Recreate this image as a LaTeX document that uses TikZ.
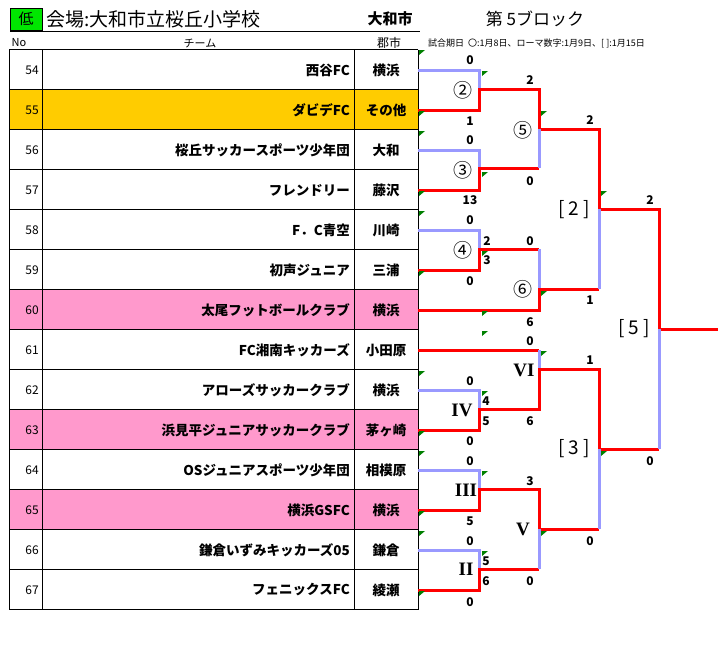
\documentclass[tikz,border=0pt]{standalone}
\usepackage{fontspec}
\setmainfont{Noto Sans CJK JP}
\newfontfamily\romfont{Liberation Serif}
\definecolor{lav}{RGB}{153,153,255}
\definecolor{gold}{RGB}{255,204,0}
\definecolor{pinkr}{RGB}{255,153,204}
\definecolor{lowg}{RGB}{0,230,0}
\definecolor{mkg}{RGB}{0,128,0}
\begin{document}
\begin{tikzpicture}[x=1pt,y=-1pt,
  win/.style={draw=red,line width=3pt,line join=miter},
  lose/.style={draw=lav,line width=3pt},
  sc/.style={font=\fontsize{12}{12}\selectfont\bfseries,inner sep=0pt},
  lab/.style={font=\fontsize{19}{19}\selectfont,inner sep=0pt},
  rom/.style={font=\fontsize{19}{19}\selectfont\romfont\bfseries,inner sep=0pt},
  team/.style={font=\fontsize{13.5}{14}\selectfont\bfseries,anchor=east,inner sep=0pt},
  city/.style={font=\fontsize{13.5}{14}\selectfont\bfseries,inner sep=0pt},
  num/.style={font=\fontsize{12}{12}\selectfont,anchor=east,inner sep=0pt},
  grid/.style={draw=black,line width=0.9pt},
  mk/.style={fill=mkg}]
\useasboundingbox (0,0) rectangle (728,646);
\fill[white] (0,0) rectangle (728,646);
% header
\node[draw=black,fill=lowg,minimum width=32pt,minimum height=22pt,inner sep=0pt,font=\fontsize{15}{15}\selectfont] (low) at (26,19) {低};
\node[anchor=west,inner sep=0pt,font=\fontsize{19}{19}\selectfont] (venue) at (46,19) {会場:大和市立桜丘小学校};
\node[inner sep=0pt,font=\fontsize{15}{15}\selectfont\bfseries] (vcity) at (390,19) {大和市};
\node[inner sep=0pt,font=\fontsize{17}{17}\selectfont] (block) at (535,19) {第 5ブロック};
\draw[black,line width=1pt] (10,31) -- (420,31);
\node[inner sep=0pt,font=\fontsize{11}{11}\selectfont] (hno) at (19,43) {No};
\node[inner sep=0pt,font=\fontsize{11}{11}\selectfont] (hteam) at (200,43) {チーム};
\node[inner sep=0pt,font=\fontsize{12}{12}\selectfont] (hcity) at (389,43) {郡市};
\node[anchor=west,inner sep=0pt,font=\fontsize{9}{9}\selectfont] (note) at (428,43) {試合期日\ \ 〇:1月8日、ローマ数字:1月9日、[ ]:1月15日};
% table
\fill[gold] (9,89.5) rectangle (418,129.5);
\foreach \r in {6,9,11}{\fill[pinkr] (9,49.5+40*\r) rectangle (418,89.5+40*\r);}
\foreach \r in {0,...,14}{\draw[grid] (9,49.5+40*\r) -- (418,49.5+40*\r);}
\foreach \x in {9,42,354,418}{\draw[grid] (\x,49.5) -- (\x,609.5);}
\foreach \n/\t/\c [count=\i from 0] in {54/西谷FC/横浜,55/ダビデFC/その他,56/桜丘サッカースポーツ少年団/大和,57/フレンドリー/藤沢,58/F．C青空/川崎,59/初声ジュニア/三浦,60/太尾フットボールクラブ/横浜,61/FC湘南キッカーズ/小田原,62/アローズサッカークラブ/横浜,63/浜見平ジュニアサッカークラブ/茅ヶ崎,64/OSジュニアスポーツ少年団/相模原,65/横浜GSFC/横浜,66/鎌倉いずみキッカーズ05/鎌倉,67/フェニックスFC/綾瀬}{
  \node[num] (n\n) at (39,70+40*\i) {\n};
  \node[team] (t\n) at (350,70+40*\i) {\t};
  \node[city] (c\n) at (386,70+40*\i) {\c};
}
% bracket
\draw[lose] (418,70) -- (479,70) -- (479,89);
\draw[win] (418,110) -- (479,110) -- (479,89) -- (539,89) -- (539,129) -- (599,129) -- (599,209) -- (659,209) -- (659,329) -- (718,329);
\draw[lose] (418,150) -- (479,150) -- (479,168);
\draw[win] (418,190) -- (479,190) -- (479,168) -- (539,168);
\draw[lose] (539,168) -- (539,129);
\draw[lose] (418,230) -- (479,230) -- (479,249);
\draw[win] (418,270) -- (479,270) -- (479,249) -- (539,249);
\draw[lose] (539,249) -- (539,289);
\draw[win] (418,310) -- (539,310) -- (539,289) -- (599,289);
\draw[lose] (599,289) -- (599,209);
\draw[win] (418,350) -- (539,350);
\draw[lose] (539,350) -- (539,369);
\draw[lose] (418,390) -- (479,390) -- (479,409);
\draw[win] (418,430) -- (479,430) -- (479,409) -- (539,409) -- (539,369) -- (599,369) -- (599,449) -- (659,449);
\draw[lose] (659,449) -- (659,329);
\draw[lose] (418,470) -- (479,470) -- (479,489);
\draw[win] (418,510) -- (479,510) -- (479,489) -- (539,489) -- (539,529) -- (599,529);
\draw[lose] (599,529) -- (599,449);
\draw[lose] (418,550) -- (479,550) -- (479,569);
\draw[win] (418,590) -- (479,590) -- (479,569) -- (539,569);
\draw[lose] (539,569) -- (539,529);
% match labels
\foreach \x/\y/\t/\m in {463/90/②/m2,523/130/⑤/m5,463/170/③/m3,463/250/④/m4,523/289/⑥/m6,574/210/{[ 2 ]}/q2,634/329/{[ 5 ]}/q5,574/449/{[ 3 ]}/q3}{
  \node[lab] (\m) at (\x,\y) {\t};}
\foreach \x/\y/\t/\m in {524/370/VI/r6,462/410/IV/r4,466/490/III/r3,523/529/V/r5,466/569/II/r2}{
  \node[rom] (\m) at (\x,\y) {\t};}
% scores
\foreach \x/\y/\t [count=\k] in {470/60/0,470/121/1,530/80/2,530/181/0,470/140/0,470/200/13,470/220/0,487/241/2,487/260/3,470/281/0,530/241/0,530/322/6,590/120/2,590/300/1,650/200/2,650/461/0,530/341/0,530/421/6,470/381/0,486/401/4,486/421/5,470/441/0,590/360/1,590/541/0,470/461/0,470/521/5,530/481/3,530/581/0,470/541/0,486/561/5,486/581/6,470/602/0}{
  \node[sc] (s\k) at (\x,\y) {\t};}
% comment markers
\foreach \x/\y in {419/50,419/111,419/131,482/71,541/111,482/172,419/191,419/211,601/191,482/251,419/271,541/291,482/311,482/331,541/351,419/371,482/391,419/431,419/451,482/471,419/511,419/531,541/531,482/551,601/451,419/591}{
  \fill[mk] (\x,\y) -- ++(6,0) -- ++(-6,5) -- cycle;}
\end{tikzpicture}
\end{document}
